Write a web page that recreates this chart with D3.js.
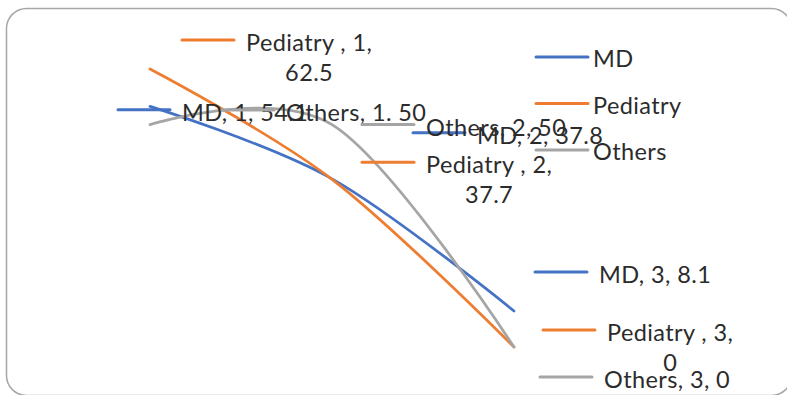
<!DOCTYPE html>
<html>
<head>
<meta charset="utf-8">
<script src="https://cdn.jsdelivr.net/npm/d3@7/dist/d3.min.js"></script>
<style>
  html, body { margin: 0; padding: 0; background: #fff; }
  svg { display: block; }
  text { font-family: Lato, "Open Sans", sans-serif; fill: #2b2b2b; letter-spacing: 0.4px; }
</style>
</head>
<body>
<svg id="chart" width="787" height="395"></svg>
<script>
// Categories and series values
const categories = [1, 2, 3];
const seriesNames = ["MD", "Pediatry", "Others"];
const mdValues = [54.1, 37.8, 8.1];
const pediatryValues = [62.5, 37.7, 0];
const othersValues = [50, 50, 0];

// Series name and the separator before the value, as written in each data label
const labelNames = ["MD", "Pediatry ", "Others"];
const valueSeparators = [
  [", ", ", ", ", "],
  [", ", ", ", ", "],
  [". ", ", ", ", "]
];

const colors = ["#4472C4", "#ED7D31", "#A5A5A5"];
const allValues = [mdValues, pediatryValues, othersValues];

// Data-label placement: offset of the label key from its point, and line wrapping
const labelLayout = [
  [ { dx: -32, dy: 3.5,   wrap: false }, { dx: 81, dy: -46, wrap: false }, { dx: 21, dy: -39, wrap: false } ],
  [ { dx: 32,  dy: -29,   wrap: true  }, { dx: 30, dy: -17, wrap: true  }, { dx: 29, dy: -17, wrap: true  } ],
  [ { dx: 72,  dy: -14.5, wrap: false }, { dx: 30, dy: 0,   wrap: false }, { dx: 26, dy: 30,  wrap: false } ]
];

const svg = d3.select("#chart");

// Chart area border
svg.append("rect")
  .attr("x", 6.5).attr("y", 8.5)
  .attr("width", 785).attr("height", 387)
  .attr("rx", 20).attr("ry", 20)
  .attr("fill", "#fff")
  .attr("stroke", "#a6a6a6")
  .attr("stroke-width", 1.5);

const x = d3.scalePoint().domain(categories).range([150, 514]);
const y = d3.scaleLinear().domain([0, 70]).range([347, 35.6]);

const line = d3.line()
  .x((d, i) => x(categories[i]))
  .y(d => y(d))
  .curve(d3.curveCardinal.tension(0));

// Smoothed series lines
const gLines = svg.append("g");
allValues.forEach((vals, s) => {
  gLines.append("path")
    .datum(vals)
    .attr("d", line)
    .attr("fill", "none")
    .attr("stroke", colors[s])
    .attr("stroke-width", 2.75)
    .attr("stroke-linecap", "round");
});

// Data labels with legend keys
const fontSize = 23.5;
const keyLen = 52;
const gLabels = svg.append("g").style("font-size", fontSize + "px");
allValues.forEach((vals, s) => {
  vals.forEach((v, i) => {
    const lay = labelLayout[s][i];
    const px = x(categories[i]), py = y(v);
    const kx = px + lay.dx, ky = py + lay.dy;
    const g = gLabels.append("g");
    g.append("line")
      .attr("x1", kx).attr("x2", kx + keyLen)
      .attr("y1", ky).attr("y2", ky)
      .attr("stroke", colors[s]).attr("stroke-width", 3)
      .attr("stroke-linecap", "round");
    const tx = kx + keyLen + 12;
    const sep = valueSeparators[s][i];
    if (lay.wrap) {
      const t1 = g.append("text")
        .attr("x", tx).attr("y", ky + 2)
        .attr("dominant-baseline", "central")
        .text(labelNames[s] + ", " + categories[i] + sep.trim());
      const w = t1.node().getComputedTextLength();
      g.append("text")
        .attr("x", tx + w / 2).attr("y", ky + 2 + 30)
        .attr("text-anchor", "middle")
        .attr("dominant-baseline", "central")
        .text(String(v));
    } else {
      g.append("text")
        .attr("x", tx).attr("y", ky + 2)
        .attr("dominant-baseline", "central")
        .text(labelNames[s] + ", " + categories[i] + sep + v);
    }
  });
});

// Legend
const legend = svg.append("g").style("font-size", fontSize + "px");
seriesNames.forEach((name, s) => {
  const ly = 57 + s * 46.5;
  legend.append("line")
    .attr("x1", 536).attr("x2", 588)
    .attr("y1", ly).attr("y2", ly)
    .attr("stroke", colors[s]).attr("stroke-width", 3)
    .attr("stroke-linecap", "round");
  legend.append("text")
    .attr("x", 593).attr("y", ly + 1)
    .attr("dominant-baseline", "central")
    .text(name);
});
</script>
</body>
</html>
